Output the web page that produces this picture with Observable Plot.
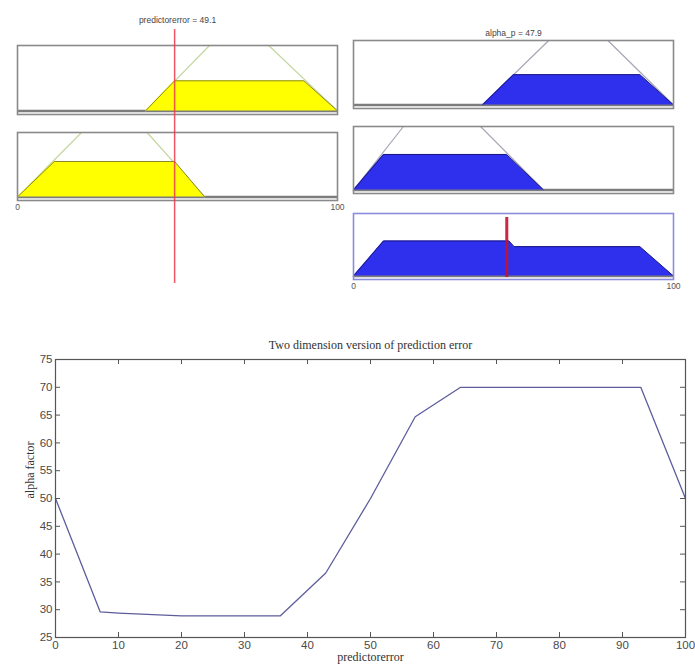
<!DOCTYPE html>
<html><head><meta charset="utf-8">
<script src="https://cdn.jsdelivr.net/npm/d3@7"></script>
<script src="https://cdn.jsdelivr.net/npm/@observablehq/plot@0.6"></script>
<style>
html,body{margin:0;padding:0;background:#fff;}
#chart{position:relative;width:695px;height:669px;overflow:hidden;background:#fff;}
#chart > div{position:absolute;pointer-events:none;}
#chart svg{display:block;overflow:visible;}
</style></head><body><div id="chart"></div>
<script>
// ---------- data ----------
const inputName = "predictorerror";
const outputName = "alpha_p";
const inputValue = 49.1;
const outputValue = 47.9;

// input membership functions (x, degree)
const inHighX = [40, 60, 78.5, 100];
const inHighMu = [0, 1, 1, 0];
const inHighFillX = [40, 49.1, 89.5, 100];
const inHighFillMu = [0, 0.46, 0.46, 0];

const inLowX = [0, 20, 40.5, 58.5];
const inLowMu = [0, 1, 1, 0];
const inLowFillX = [0, 11.5, 49.1, 58.5];
const inLowFillMu = [0, 0.55, 0.55, 0];

// output membership functions
const outHighX = [40.3, 61, 79.5, 100];
const outHighMu = [0, 1, 1, 0];
const outHighFillX = [40.3, 50, 89.5, 100];
const outHighFillMu = [0, 0.47, 0.47, 0];

const outLowX = [0, 15.6, 39.7, 59.4];
const outLowMu = [0, 1, 1, 0];
const outLowFillX = [0, 9.4, 47.8, 59.4];
const outLowFillMu = [0, 0.56, 0.56, 0];

// aggregated output
const aggX = [0, 9.4, 48.6, 50.2, 89.5, 100];
const aggMu = [0, 0.56, 0.56, 0.47, 0.47, 0];

// two-dimensional surface
const curveX = [0, 7.1, 10, 20, 35.7, 42.9, 50, 57.1, 64.3, 92.9, 100];
const curveY = [50, 29.6, 29.4, 28.9, 28.9, 36.6, 50, 64.7, 70, 70, 50];
const xTicks = [0, 10, 20, 30, 40, 50, 60, 70, 80, 90, 100];
const yTicks = [25, 30, 35, 40, 45, 50, 55, 60, 65, 70, 75];
const chartTitle = "Two dimension version of prediction error";
const xLabel = "predictorerror";
const yLabel = "alpha factor";

// ---------- helpers ----------
const root = document.getElementById("chart");
const pts = (xs, ys) => xs.map((x, i) => ({x, mu: ys[i]}));
function place(node, left, top) {
  const d = document.createElement("div");
  d.style.left = left + "px"; d.style.top = top + "px";
  d.appendChild(node); root.appendChild(d);
}
const small = {fontFamily: "Liberation Sans, Arial, sans-serif", fontSize: "8.5px", color: "#555", background: "transparent", overflow: "visible"};

function panel(o) {
  const ml = 8, mr = 12, mt = o.title ? 16 : 1, mb = o.labels ? 14 : 1;
  const mf = pts(o.mfX, o.mfMu), fl = pts(o.fillX, o.fillMu);
  const marks = [
    Plot.ruleY([0], {stroke: "#7c7c7c", strokeWidth: 2.5}),
    Plot.line(mf, {x: "x", y: "mu", stroke: o.outline, strokeWidth: 1.2}),
    Plot.areaY(fl, {x: "x", y: "mu", fill: o.fill}),
    Plot.line(fl, {x: "x", y: "mu", stroke: o.edge, strokeWidth: 1}),
  ];
  if (o.rule != null) marks.push(Plot.ruleX([o.rule], {stroke: "#c4122c", strokeWidth: 3, strokeOpacity: 0.9, insetTop: 4, insetBottom: 2}));
  marks.push(Plot.frame({stroke: o.frame || "#8a8a8a", strokeWidth: 1.6}));
  if (o.title) marks.push(Plot.text([o.title], {text: d => d, frameAnchor: "top", dy: -11, fill: "#444"}));
  const svg = Plot.plot({
    width: o.width + ml + mr, height: o.height + mt + mb,
    marginLeft: ml, marginRight: mr, marginTop: mt, marginBottom: mb,
    style: small,
    x: {domain: [0, 100], axis: o.labels ? "bottom" : null, ticks: [0, 100], tickSize: 0, tickPadding: 3, label: null},
    y: {domain: [-0.055, 1], axis: null},
    marks
  });
  place(svg, o.left - ml, o.top - mt);
}

// ---------- input column ----------
panel({left: 17, top: 45, width: 320, height: 69, mfX: inHighX, mfMu: inHighMu, fillX: inHighFillX, fillMu: inHighFillMu,
  fill: "#ffff00", edge: "#8a8a2a", outline: "#c4d6a0"});
panel({left: 17, top: 132, width: 320, height: 68, mfX: inLowX, mfMu: inLowMu, fillX: inLowFillX, fillMu: inLowFillMu,
  fill: "#ffff00", edge: "#8a8a2a", outline: "#c4d6a0", labels: true});

// ---------- output column ----------
panel({left: 353, top: 40, width: 320, height: 68, mfX: outHighX, mfMu: outHighMu, fillX: outHighFillX, fillMu: outHighFillMu,
  fill: "#2f2fee", edge: "#1a1a80", outline: "#a6a6b6", title: `${outputName} = ${outputValue}`});
panel({left: 353, top: 126, width: 320, height: 67, mfX: outLowX, mfMu: outLowMu, fillX: outLowFillX, fillMu: outLowFillMu,
  fill: "#2f2fee", edge: "#1a1a80", outline: "#a6a6b6"});
panel({left: 353, top: 213, width: 320, height: 66, mfX: [0, 100], mfMu: [0, 0], fillX: aggX, fillMu: aggMu,
  fill: "#2f2fee", edge: "#1a1a80", outline: "#7c7c7c", frame: "#8c8cdc", labels: true, rule: outputValue});

// ---------- input overlay (red line + title) ----------
{
  const ml = 8, mr = 12, mt = 29, mb = 7;
  const svg = Plot.plot({
    width: 320 + ml + mr, height: 290, marginLeft: ml, marginRight: mr, marginTop: mt, marginBottom: mb,
    style: small,
    x: {domain: [0, 100], axis: null}, y: {axis: null},
    marks: [
      Plot.ruleX([inputValue], {stroke: "#ee3a48", strokeWidth: 1.5, strokeOpacity: 0.85}),
      Plot.text([`${inputName} = ${inputValue}`], {text: d => d, frameAnchor: "top", dy: -13, fill: "#444"})
    ]
  });
  place(svg, 17 - ml, 0);
}

// ---------- two-dimensional chart ----------
{
  const W = 695, H = 349, mt = 39, mb = 32, ml = 55, mr = 10;
  const iw = W - ml - mr, ih = H - mt - mb;
  const data = curveX.map((x, i) => ({x, y: curveY[i]}));
  const tk = 5;
  const serif = "Liberation Serif, Times New Roman, serif";
  const svg = Plot.plot({
    width: W, height: H, marginTop: mt, marginBottom: mb, marginLeft: ml, marginRight: mr,
    style: {fontFamily: "Liberation Sans, Arial, sans-serif", fontSize: "11.5px", color: "#4a4a4a", background: "transparent", overflow: "visible"},
    x: {domain: [0, 100], ticks: xTicks, tickSize: 0, tickPadding: 3, label: null},
    y: {domain: [25, 75], ticks: yTicks, tickSize: 0, tickPadding: 3, label: null},
    marks: [
      Plot.ruleX(xTicks, {x: d => d, insetTop: ih - tk, stroke: "#555"}),
      Plot.ruleX(xTicks, {x: d => d, insetBottom: ih - tk, stroke: "#555"}),
      Plot.ruleY(yTicks, {y: d => d, insetRight: iw - tk, stroke: "#555"}),
      Plot.ruleY(yTicks, {y: d => d, insetLeft: iw - tk, stroke: "#555"}),
      Plot.line(data, {x: "x", y: "y", stroke: "#5d5d9c", strokeWidth: 1.3}),
      Plot.frame({stroke: "#555", strokeWidth: 1.2}),
      Plot.text([chartTitle], {text: d => d, frameAnchor: "top", dy: -19, fontFamily: serif, fontSize: 12, fill: "#333"}),
      Plot.text([xLabel], {text: d => d, frameAnchor: "bottom", dy: 23, fontFamily: serif, fontSize: 12, fill: "#333"}),
      Plot.text([yLabel], {text: d => d, frameAnchor: "left", rotate: -90, dx: -25, fontFamily: serif, fontSize: 12, fill: "#333"})
    ]
  });
  place(svg, 0, 320);
}
</script></body></html>
